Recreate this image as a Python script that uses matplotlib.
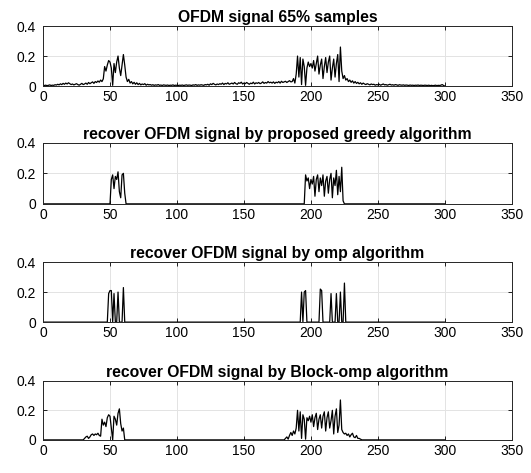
import numpy as np
import matplotlib.pyplot as plt

plt.rcParams['font.family'] = ['Liberation Sans', 'DejaVu Sans']

N = 300

# received signal with 65% of the samples kept (samples 1..300)
sampled = [
    0.004, 0.006, 0.003, 0.005, 0.008, 0.004, 0.006, 0.005, 0.009, 0.007,
    0.012, 0.008, 0.015, 0.010, 0.018, 0.012, 0.020, 0.014, 0.022, 0.016,
    0.010, 0.014, 0.008, 0.012, 0.016, 0.010, 0.006, 0.012, 0.018, 0.010,
    0.014, 0.020, 0.012, 0.024, 0.016, 0.022, 0.028, 0.018, 0.030, 0.024,
    0.034, 0.026, 0.040, 0.030, 0.048, 0.130, 0.100, 0.140, 0.170, 0.160,
    0.120, 0.005, 0.150, 0.090, 0.160, 0.200, 0.120, 0.070, 0.140, 0.210,
    0.140, 0.060, 0.030, 0.045, 0.020, 0.030, 0.015, 0.025, 0.012, 0.022,
    0.010, 0.018, 0.008, 0.014, 0.010, 0.016, 0.006, 0.012, 0.008, 0.010,
    0.006, 0.009, 0.005, 0.008, 0.006, 0.010, 0.005, 0.007, 0.004, 0.008,
    0.006, 0.005, 0.007, 0.004, 0.006, 0.005, 0.008, 0.004, 0.006, 0.005,
    0.004, 0.006, 0.005, 0.007, 0.004, 0.006, 0.008, 0.005, 0.007, 0.006,
    0.004, 0.008, 0.006, 0.010, 0.005, 0.008, 0.006, 0.009, 0.007, 0.005,
    0.010, 0.008, 0.012, 0.006, 0.015, 0.010, 0.018, 0.012, 0.008, 0.014,
    0.010, 0.016, 0.012, 0.020, 0.010, 0.018, 0.014, 0.022, 0.012, 0.016,
    0.020, 0.014, 0.024, 0.016, 0.012, 0.022, 0.018, 0.026, 0.014, 0.020,
    0.016, 0.024, 0.018, 0.012, 0.020, 0.016, 0.026, 0.014, 0.022, 0.018,
    0.024, 0.016, 0.020, 0.028, 0.018, 0.024, 0.020, 0.030, 0.022, 0.026,
    0.020, 0.028, 0.018, 0.026, 0.022, 0.030, 0.020, 0.032, 0.024, 0.028,
    0.032, 0.024, 0.030, 0.036, 0.028, 0.030, 0.050, 0.020, 0.080, 0.200,
    0.060, 0.190, 0.010, 0.180, 0.130, 0.005, 0.120, 0.160, 0.130, 0.150,
    0.120, 0.170, 0.100, 0.150, 0.200, 0.080, 0.140, 0.180, 0.050, 0.130,
    0.190, 0.090, 0.160, 0.200, 0.040, 0.120, 0.180, 0.060, 0.150, 0.210,
    0.030, 0.260, 0.100, 0.050, 0.070, 0.040, 0.050, 0.030, 0.040, 0.025,
    0.035, 0.020, 0.030, 0.018, 0.025, 0.015, 0.022, 0.012, 0.020, 0.014,
    0.010, 0.016, 0.012, 0.008, 0.014, 0.010, 0.012, 0.006, 0.010, 0.008,
    0.012, 0.006, 0.010, 0.014, 0.008, 0.010, 0.006, 0.009, 0.012, 0.007,
    0.009, 0.006, 0.010, 0.008, 0.005, 0.009, 0.007, 0.006, 0.008, 0.005,
    0.007, 0.006, 0.004, 0.007, 0.005, 0.006, 0.004, 0.006, 0.005, 0.007,
    0.004, 0.006, 0.005, 0.004, 0.006, 0.005, 0.004, 0.006, 0.003, 0.005,
    0.003, 0.004, 0.006, 0.003, 0.005, 0.004, 0.006, 0.010, 0.004, 0.000,
]

# recovered segments: (first sample index, values)
greedy_segments = [
    (50, [0.0, 0.16, 0.19, 0.10, 0.18, 0.16, 0.21, 0.08, 0.04, 0.19,
          0.20, 0.07, 0.0]),
    (195, [0.0, 0.19, 0.15, 0.17, 0.10, 0.16, 0.13, 0.18, 0.05, 0.16,
           0.19, 0.08, 0.17, 0.12, 0.19, 0.05, 0.15, 0.18, 0.07, 0.16,
           0.20, 0.04, 0.17, 0.12, 0.22, 0.06, 0.18, 0.08, 0.24, 0.02, 0.0]),
]

omp_segments = [
    (48, [0.0, 0.19, 0.21, 0.21, 0.0, 0.19, 0.0, 0.0, 0.20, 0.0,
          0.0, 0.0, 0.23, 0.0]),
    (192, [0.0, 0.20, 0.0, 0.20, 0.21, 0.0, 0.0, 0.0, 0.0, 0.0,
           0.0, 0.0, 0.0, 0.0, 0.0, 0.22, 0.21, 0.0, 0.0, 0.0,
           0.0, 0.0, 0.0, 0.19, 0.0, 0.0, 0.0, 0.19, 0.0, 0.0,
           0.20, 0.0, 0.0, 0.26, 0.0]),
]

block_omp_segments = [
    (30, [0.0, 0.01, 0.02, 0.025, 0.01, 0.02, 0.035, 0.04, 0.03, 0.04,
          0.035, 0.045, 0.03, 0.025, 0.14, 0.10, 0.12, 0.09, 0.15, 0.17,
          0.16, 0.08, 0.0, 0.16, 0.14, 0.10, 0.18, 0.21, 0.11, 0.06,
          0.08, 0.0]),
    (180, [0.0, 0.01, 0.02, 0.005, 0.03, 0.05, 0.03, 0.06, 0.04, 0.08,
           0.20, 0.06, 0.19, 0.01, 0.17, 0.14, 0.005, 0.15, 0.13, 0.16,
           0.12, 0.17, 0.09, 0.15, 0.18, 0.07, 0.14, 0.17, 0.08, 0.16,
           0.19, 0.06, 0.15, 0.19, 0.08, 0.13, 0.20, 0.04, 0.16, 0.21,
           0.05, 0.10, 0.27, 0.07, 0.05, 0.04, 0.045, 0.03, 0.04, 0.02,
           0.035, 0.045, 0.02, 0.015, 0.03, 0.01, 0.01, 0.005, 0.0]),
]

titles = [
    'OFDM signal 65% samples',
    'recover OFDM signal by proposed greedy algorithm',
    'recover OFDM signal by omp algorithm',
    'recover OFDM signal by Block-omp algorithm',
]


def build(segments):
    y = np.zeros(N)
    for start, vals in segments:
        y[start - 1:start - 1 + len(vals)] = vals
    return y


x = np.arange(1, N + 1)
series = [np.array(sampled), build(greedy_segments),
          build(omp_segments), build(block_omp_segments)]

fig = plt.figure(figsize=(5.31, 4.73), dpi=100)
rows = [(0.818, 0.127), (0.569, 0.129), (0.319, 0.127), (0.070, 0.125)]

for (y0, h), y, title in zip(rows, series, titles):
    ax = fig.add_axes([0.081, y0, 0.883, h])
    ax.plot(x, y, color='black', linewidth=0.9)
    ax.set_xlim(0, 350)
    ax.set_ylim(0, 0.4)
    ax.set_xticks(range(0, 351, 50))
    ax.set_yticks([0, 0.2, 0.4])
    ax.set_yticklabels(['0', '0.2', '0.4'])
    ax.grid(True, color='#e3e3e3', linewidth=0.7)
    ax.set_axisbelow(True)
    ax.tick_params(direction='in', length=3, width=0.6, labelsize=10,
                   top=True, right=True)
    ax.tick_params(axis='x', pad=3)
    ax.tick_params(axis='y', pad=5)
    for s in ax.spines.values():
        s.set_linewidth(0.7)
        s.set_color('#262626')
    ax.set_title(title, fontsize=11.3, fontweight='bold', pad=3)

fig.savefig('out.png', dpi=100)
